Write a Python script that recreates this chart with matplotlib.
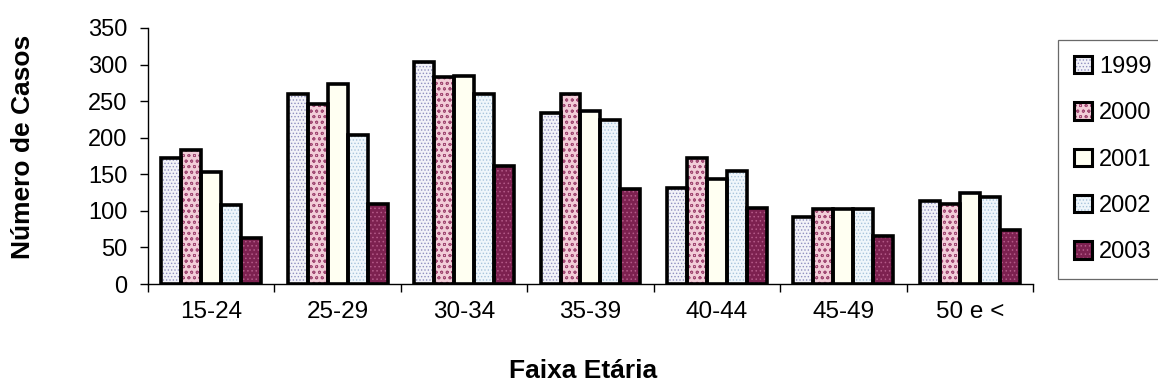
import numpy as np
from matplotlib import pyplot as plt
from matplotlib.patches import Patch

# faixas etarias e casos por ano
faixas = ['15-24', '25-29', '30-34', '35-39', '40-44', '45-49', '50 e <']
anos = ['1999', '2000', '2001', '2002', '2003']
casos_1999 = [172, 260, 303, 234, 131, 92, 114]
casos_2000 = [183, 246, 283, 260, 172, 103, 109]
casos_2001 = [153, 274, 285, 236, 143, 103, 124]
casos_2002 = [108, 204, 260, 224, 154, 103, 119]
casos_2003 = [63, 110, 161, 130, 104, 66, 74]
series = [casos_1999, casos_2000, casos_2001, casos_2002, casos_2003]

faces = ['#f2f2f8', '#f2cdd8', '#fffff2', '#eff6fb', '#7d2150']
dots = ['#8f8fbf', '#a24a74', '#fffff2', '#a8c4dc', '#b45a88']
hatches = ['.....', 'ooo', '', '.....', '....']

plt.rcParams['font.family'] = ['Liberation Sans', 'DejaVu Sans']
plt.rcParams['hatch.linewidth'] = 0.6

fig = plt.figure(figsize=(11.58, 3.86), dpi=100)
ax = fig.add_axes([0.1278, 0.2642, 0.892 - 0.1278, 0.9275 - 0.2642])

x = np.arange(len(faixas))
w = 0.158
handles = []
for i, vals in enumerate(series):
    pos = x - 2 * w + i * w
    ax.bar(pos, vals, w, color=faces[i], hatch=hatches[i], edgecolor=dots[i],
           linewidth=0, zorder=2)
    ax.bar(pos, vals, w, fill=False, edgecolor='black', linewidth=2.6, zorder=3)
    h1 = Patch(facecolor=faces[i], hatch=hatches[i], edgecolor=dots[i], linewidth=0)
    h2 = Patch(fill=False, edgecolor='black', linewidth=2.2)
    handles.append((h1, h2))

ax.set_xlim(-0.5, len(faixas) - 0.5)
ax.set_ylim(0, 350)
ax.set_yticks(range(0, 351, 50))
ax.set_xticks(np.arange(len(faixas) + 1) - 0.5)
ax.set_xticklabels([])
ax.set_xticks(x, minor=True)
ax.set_xticklabels(faixas, minor=True)
ax.tick_params(axis='x', which='minor', length=0, pad=12, labelsize=17.5)
ax.tick_params(axis='x', which='major', length=6, width=1, direction='out')
ax.tick_params(axis='y', length=6, width=1, labelsize=17, pad=9)

for s in ['top', 'right']:
    ax.spines[s].set_visible(False)
ax.spines['left'].set_linewidth(1)
ax.spines['bottom'].set_linewidth(1)

fig.text(23 / 1158, 1 - 147 / 386, 'Número de Casos', rotation=90, fontsize=19,
         fontweight='bold', ha='center', va='center')
fig.text(583 / 1158, 1 - 371 / 386, 'Faixa Etária', fontsize=19,
         fontweight='bold', ha='center', va='center')

leg = fig.legend(handles, anos, loc='upper left', bbox_to_anchor=(1058 / 1158, 1 - 40 / 386),
                 fontsize=17, frameon=True, fancybox=False, borderpad=0.68,
                 labelspacing=1.03, handlelength=0.75, handleheight=0.75,
                 handletextpad=0.3, borderaxespad=0)
leg.get_frame().set_edgecolor('#444444')
leg.get_frame().set_linewidth(0.9)

fig.savefig('out.png', dpi=100)
